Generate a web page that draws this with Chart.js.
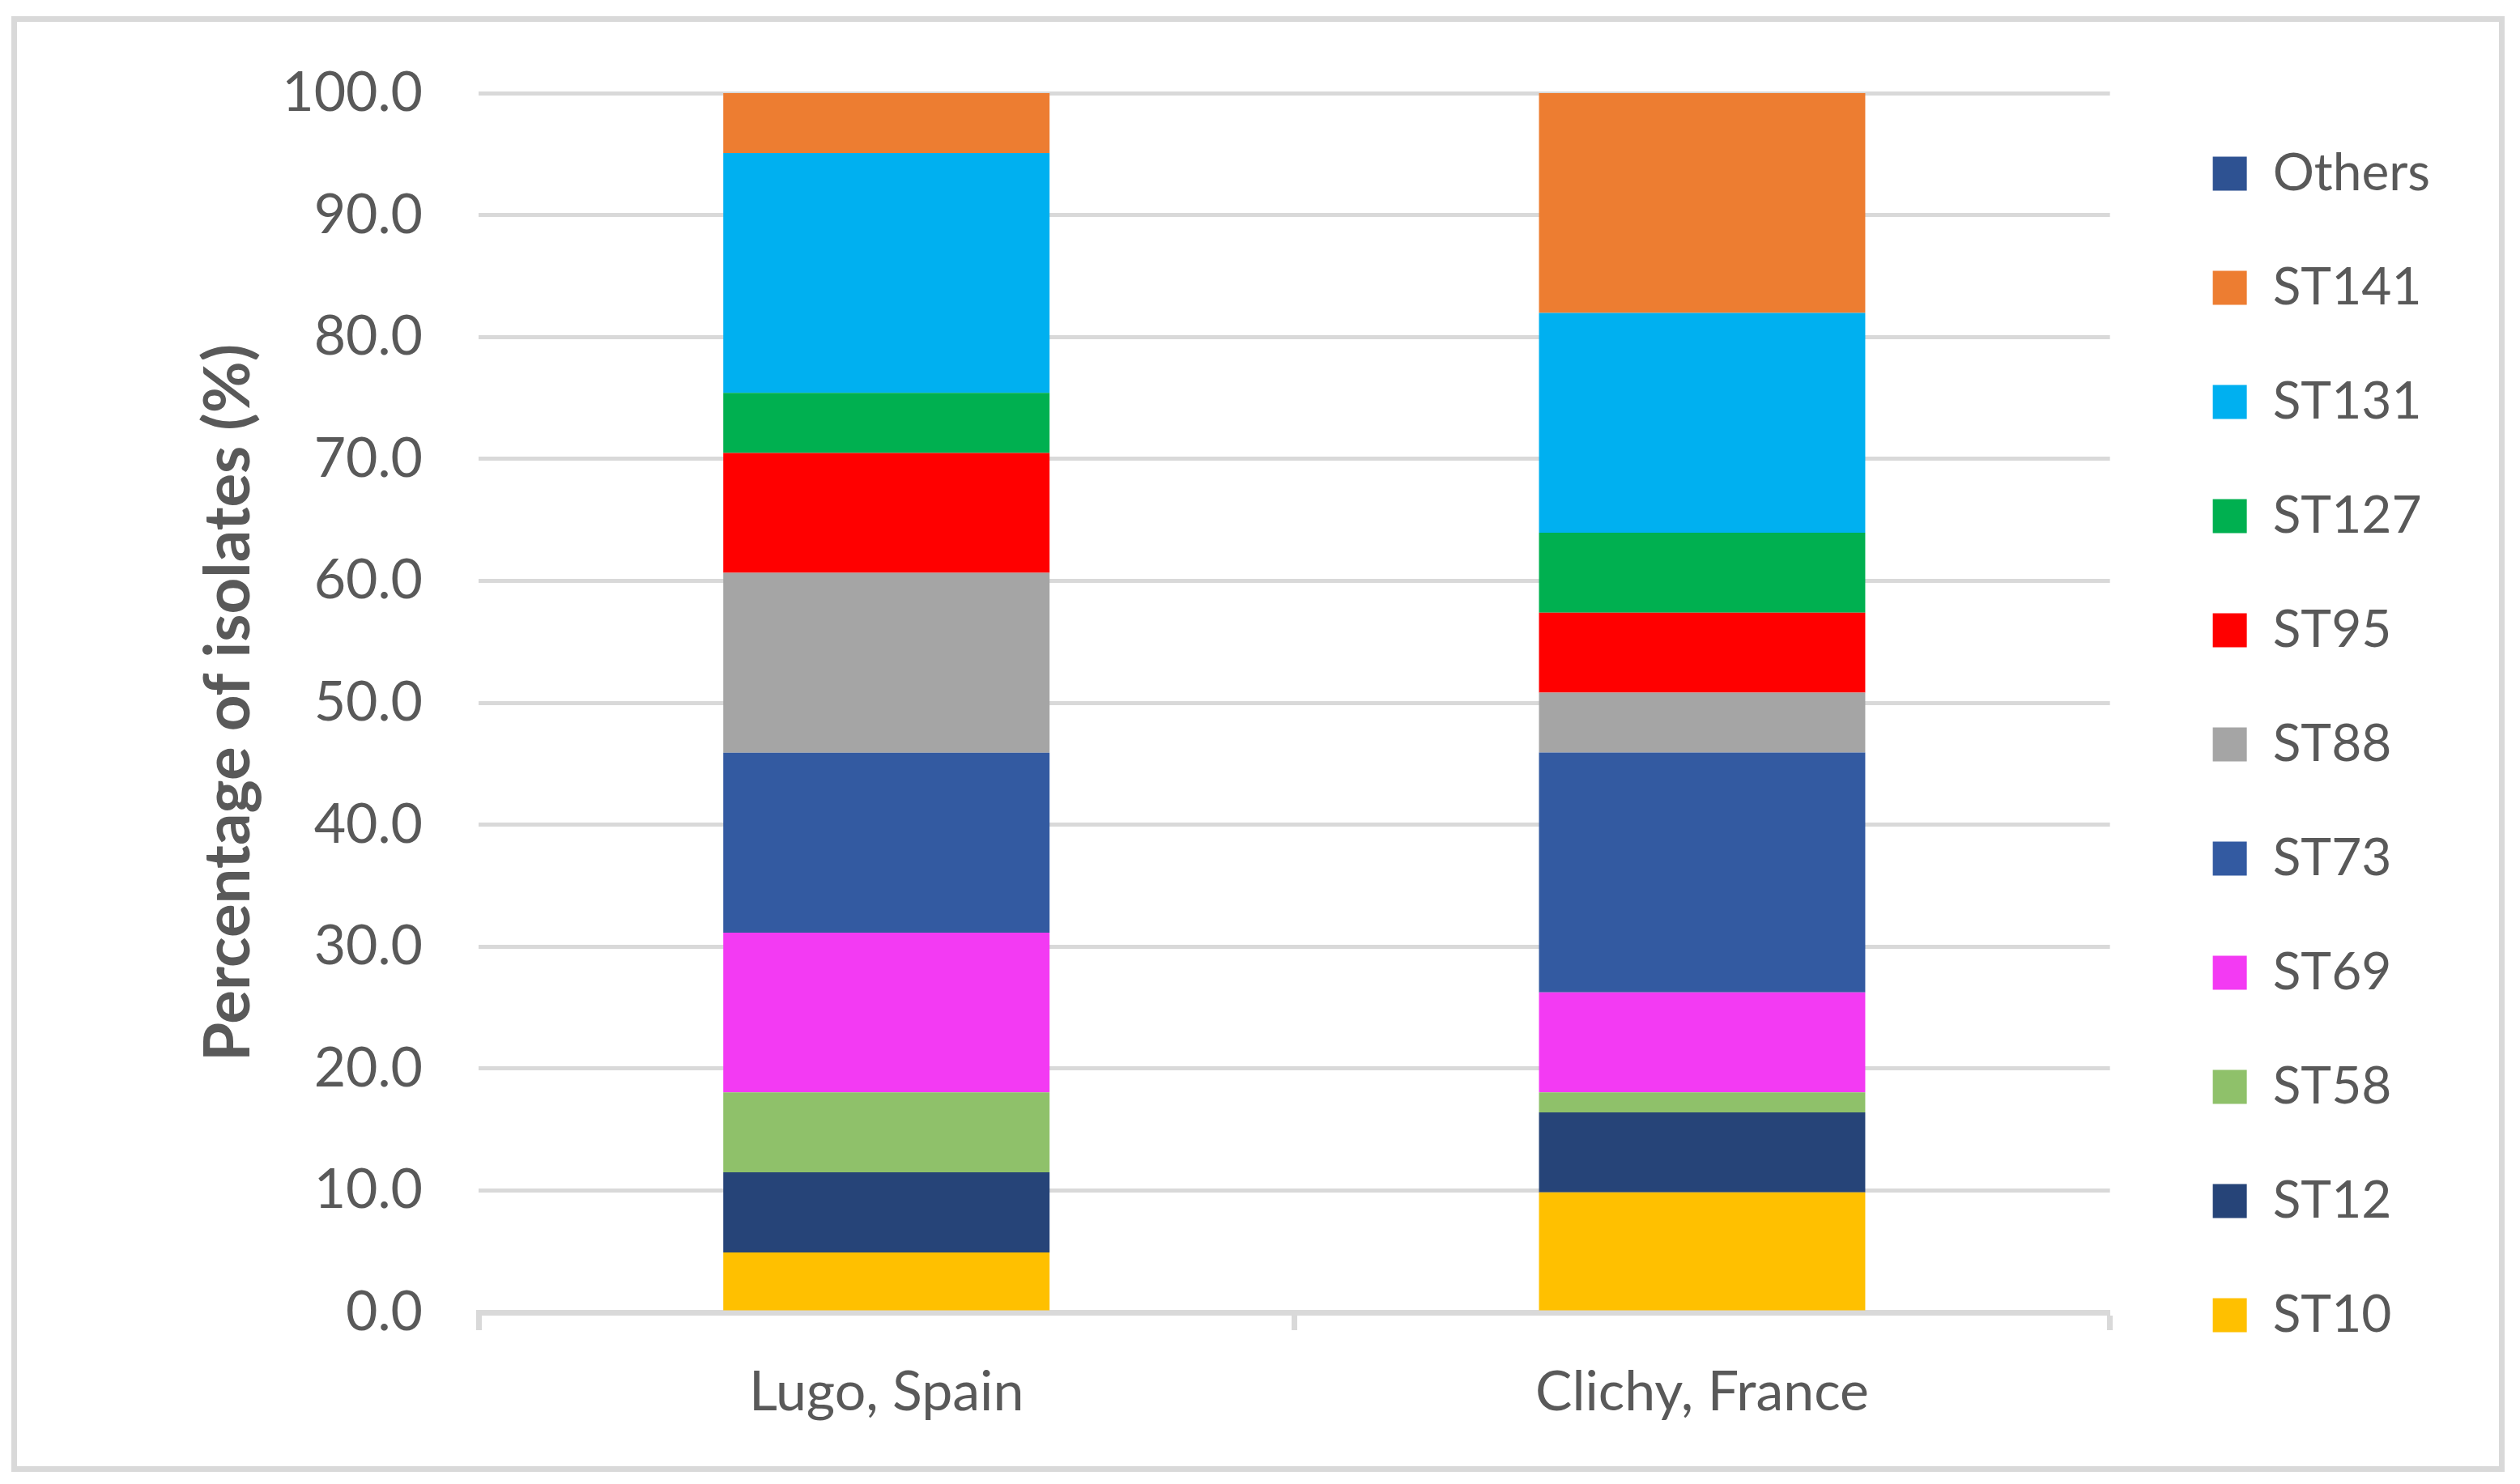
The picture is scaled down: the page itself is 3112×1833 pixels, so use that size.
<!DOCTYPE html>
<html>
<head>
<meta charset="utf-8">
<script src="https://cdn.jsdelivr.net/npm/chart.js@4.4.1/dist/chart.umd.min.js"></script>
<style>
    html, body { margin: 0; padding: 0; background: #ffffff; }
    #wrap { position: relative; width: 3112px; height: 1833px; }
</style>
</head>
<body>
<div id="wrap"><canvas id="chart"></canvas></div>
<script>
// Data
const categories = ['Lugo, Spain', 'Clichy, France'];
const seriesNames = ['ST10', 'ST12', 'ST58', 'ST69', 'ST73', 'ST88', 'ST95', 'ST127', 'ST131', 'ST141', 'Others'];
const st10 = [4.92, 9.84];
const st12 = [6.56, 6.56];
const st58 = [6.56, 1.64];
const st69 = [13.11, 8.20];
const st73 = [14.75, 19.67];
const st88 = [14.75, 4.92];
const st95 = [9.84, 6.56];
const st127 = [4.92, 6.56];
const st131 = [19.67, 18.03];
const st141 = [4.92, 18.03];
const others = [0.0, 0.0];
const yTicks = [0, 10, 20, 30, 40, 50, 60, 70, 80, 90, 100];

const seriesValues = [st10, st12, st58, st69, st73, st88, st95, st127, st131, st141, others];
const seriesColors = ['#FFC000', '#264478', '#8FC16A', '#F33AF3', '#335AA1', '#A5A5A5', '#FF0000', '#00B050', '#00B0F0', '#ED7D31', '#2E5292'];

const textColor = '#595959';
const gridColor = '#D9D9D9';
const fontName = 'Lato, "Open Sans", sans-serif';

// ==============================================
// outer frame + white background
const framePlugin = {
    id: 'frame',
    beforeDraw(chart) {
        const ctx = chart.ctx;
        ctx.save();
        ctx.fillStyle = '#ffffff';
        ctx.fillRect(0, 0, chart.width, chart.height);
        ctx.strokeStyle = gridColor;
        ctx.lineWidth = 7;
        ctx.strokeRect(17.5, 23.5, 3072, 1791);
        ctx.restore();
    }
};

const datasets = seriesNames.map((name, i) => ({
    label: name,
    data: seriesValues[i],
    backgroundColor: seriesColors[i],
    borderWidth: 0,
    categoryPercentage: 1.0,
    barPercentage: 0.4
}));

new Chart(document.getElementById('chart'), {
    type: 'bar',
    data: {
        labels: categories,
        datasets: datasets
    },
    options: {
        responsive: true,
        maintainAspectRatio: false,
        animation: false,
        devicePixelRatio: 1,
        layout: {
            padding: { left: 16, top: 6, right: 101, bottom: 0 }
        },
        scales: {
            x: {
                stacked: true,
                offset: true,
                grid: {
                    display: true,
                    offset: true,
                    drawOnChartArea: false,
                    drawTicks: true,
                    tickLength: 22,
                    tickWidth: 7,
                    tickColor: gridColor,
                    color: gridColor
                },
                border: { display: true, color: gridColor, width: 7 },
                ticks: {
                    color: textColor,
                    padding: 36,
                    font: { family: fontName, size: 68 }
                },
                afterFit(scale) { scale.height = 212; }
            },
            // empty top band, keeps the plot top at 100.0
            xTop: {
                type: 'category',
                position: 'top',
                display: true,
                grid: { display: false },
                border: { display: false },
                ticks: { display: false },
                afterFit(scale) { scale.height = 109; }
            },
            y: {
                stacked: true,
                min: 0,
                max: 100,
                afterBuildTicks(scale) {
                    scale.ticks = yTicks.map(v => ({ value: v }));
                },
                grid: { color: gridColor, lineWidth: 5, drawTicks: false },
                border: { display: false },
                ticks: {
                    color: textColor,
                    padding: 69,
                    font: { family: fontName, size: 68 },
                    callback: v => Number(v).toFixed(1)
                },
                title: {
                    display: true,
                    text: 'Percentage of isolates (%)',
                    color: textColor,
                    font: { family: fontName, size: 78, weight: 'bold' },
                    padding: { top: 220, bottom: 0 }
                },
                afterFit(scale) { scale.width = 575; }
            },
            // empty right band between plot and legend
            yR: {
                position: 'right',
                display: true,
                min: 0,
                max: 100,
                grid: { display: false },
                border: { display: false },
                ticks: { display: false },
                afterFit(scale) { scale.width = 50; }
            }
        },
        plugins: {
            legend: {
                display: true,
                position: 'right',
                reverse: true,
                labels: {
                    boxWidth: 42,
                    boxHeight: 42,
                    padding: 77,
                    color: textColor,
                    font: { family: fontName, size: 64 }
                }
            },
            tooltip: { enabled: false }
        }
    },
    plugins: [framePlugin]
});
</script>
</body>
</html>
